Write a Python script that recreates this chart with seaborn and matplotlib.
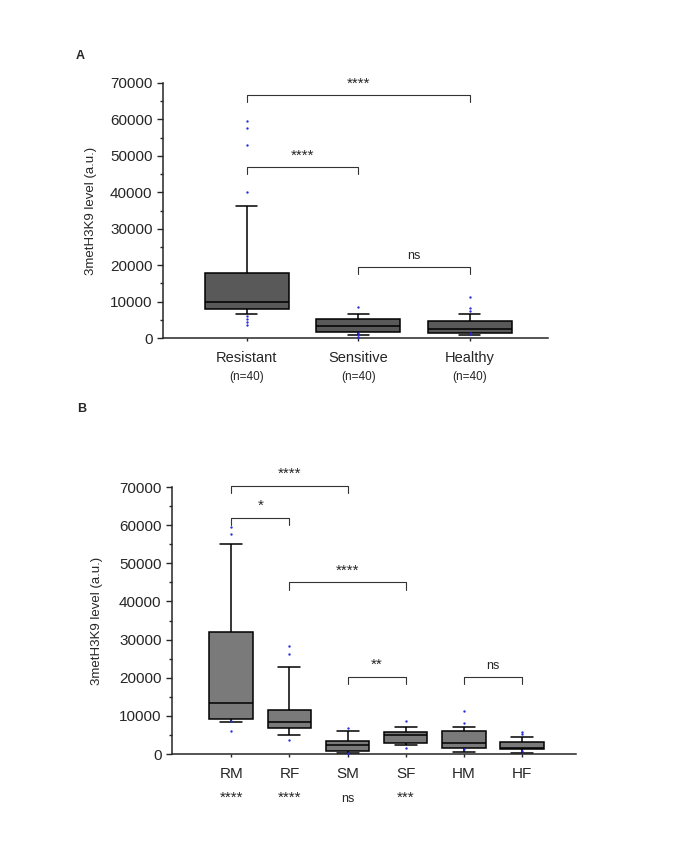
import numpy as np
import pandas as pd
import matplotlib.pyplot as plt
import matplotlib.transforms as mtransforms
import seaborn as sns

sns.set_style("ticks")
plt.rcParams["font.family"] = ["Liberation Sans", "DejaVu Sans"]

# ---- panel A data ----
groups_a = ["Resistant", "Sensitive", "Healthy"]
n_a = ["(n=40)", "(n=40)", "(n=40)"]
whislo_a = [6500, 700, 700]
q1_a = [8000, 1700, 1500]
med_a = [9900, 3300, 2600]
q3_a = [17900, 5100, 4800]
whishi_a = [36200, 6600, 6600]
outliers_a = [
    [59500, 57700, 53000, 40200, 6000, 5200, 4400, 3600],
    [8400, 1300, 700, 300, 100],
    [11300, 8200, 7500, 1500, 1100],
]
comparisons_a = [(0, 2, "****"), (0, 1, "****"), (1, 2, "ns")]
bracket_y_a = [66800, 46900, 19600]

# ---- panel B data ----
groups_b = ["RM", "RF", "SM", "SF", "HM", "HF"]
whislo_b = [8300, 5000, 200, 2400, 600, 350]
q1_b = [9100, 6900, 800, 2800, 1650, 1200]
med_b = [13450, 8300, 2400, 5000, 2800, 1700]
q3_b = [32000, 11500, 3500, 5700, 6100, 3200]
whishi_b = [55000, 22900, 6100, 7200, 7200, 4500]
outliers_b = [
    [59600, 57600, 8600, 6000],
    [28400, 26200, 3700],
    [6900, 300, 100],
    [8600, 1700],
    [11350, 8050, 1200],
    [5800, 5300, 800],
]
comparisons_b = [(0, 2, "****"), (0, 1, "*"), (1, 3, "****"), (2, 3, "**"), (4, 5, "ns")]
bracket_y_b = [70300, 62000, 45000, 20300, 20300]
vs_control_b = ["****", "****", "ns", "***", "", ""]


def box_frame(groups, lo, q1, med, q3, hi):
    # five values per group: quartiles land exactly on q1/med/q3, whiskers on min/max
    rows = []
    for g, vals in zip(groups, zip(lo, q1, med, q3, hi)):
        rows += [(g, v) for v in vals]
    return pd.DataFrame(rows, columns=["group", "value"])


def outlier_frame(groups, outliers):
    rows = [(g, v) for g, vals in zip(groups, outliers) for v in vals]
    return pd.DataFrame(rows, columns=["group", "value"])


def draw_panel(ax, groups, box_df, out_df, color, capw):
    sns.boxplot(data=box_df, x="group", y="value", order=groups, ax=ax,
                whis=(0, 100), width=0.75, color=color, saturation=1,
                linecolor="black", linewidth=1.1, showfliers=False,
                capwidths=capw)
    sns.stripplot(data=out_df, x="group", y="value", order=groups, ax=ax,
                  jitter=False, size=1.7, color="#2a2ae0", linewidth=0)
    ax.set_ylim(0, 70000)
    ax.set_yticks(np.arange(0, 70001, 10000))
    ax.set_yticks(np.arange(5000, 70000, 10000), minor=True)
    ax.set_xlabel("")
    ax.set_ylabel("3metH3K9 level (a.u.)", fontsize=9.5)
    ax.tick_params(axis="y", labelsize=11, length=4, width=1)
    ax.tick_params(axis="y", which="minor", length=2.5, width=1)
    ax.tick_params(axis="x", length=2.5, width=1, pad=7)
    ax.yaxis.set_label_coords(-0.171, 0.5)
    sns.despine(ax=ax)
    for s in ["left", "bottom"]:
        ax.spines[s].set_linewidth(1.1)


def star_size(lab):
    return 9 if lab == "ns" else 11


def brackets(ax, comps, heights, drop):
    for (i, j, lab), y in zip(comps, heights):
        ax.plot([i, i, j, j], [y - drop, y, y, y - drop], color="#333333",
                lw=0.8, clip_on=False)
        ax.text((i + j) / 2, y + 1200, lab, ha="center", va="bottom",
                fontsize=star_size(lab), clip_on=False)


fig = plt.figure(figsize=(6.85, 8.41), dpi=100)

# panel A
ax_a = fig.add_axes([163 / 685, 1 - 338 / 841, (548 - 163) / 685, (338 - 83) / 841])
draw_panel(ax_a, groups_a,
           box_frame(groups_a, whislo_a, q1_a, med_a, q3_a, whishi_a),
           outlier_frame(groups_a, outliers_a), "#595959", 0.19)
ax_a.set_xlim(-0.75, 2.70)
ax_a.tick_params(axis="x", labelsize=10.5)
brackets(ax_a, comparisons_a, bracket_y_a, 2000)
tr_a = mtransforms.blended_transform_factory(ax_a.transData, ax_a.transAxes)
for i, t in enumerate(n_a):
    ax_a.text(i, -0.153, t, transform=tr_a, ha="center", va="center", fontsize=8.5)

# panel B
ax_b = fig.add_axes([172 / 685, 1 - 754 / 841, (576 - 172) / 685, (754 - 487) / 841])
draw_panel(ax_b, groups_b,
           box_frame(groups_b, whislo_b, q1_b, med_b, q3_b, whishi_b),
           outlier_frame(groups_b, outliers_b), "#7a7a7a", 0.38)
ax_b.set_xlim(-1.02, 5.93)
ax_b.tick_params(axis="x", labelsize=11)
brackets(ax_b, comparisons_b, bracket_y_b, 2000)
tr_b = mtransforms.blended_transform_factory(ax_b.transData, ax_b.transAxes)
for i, t in enumerate(vs_control_b):
    ax_b.text(i, -0.18, t, transform=tr_b, ha="center", va="baseline",
              fontsize=star_size(t))

fig.text(80 / 685, 1 - 56 / 841, "A", fontsize=9, fontweight="bold", ha="center", va="center")
fig.text(82 / 685, 1 - 409 / 841, "B", fontsize=9, fontweight="bold", ha="center", va="center")

fig.savefig("out.png", dpi=100)
